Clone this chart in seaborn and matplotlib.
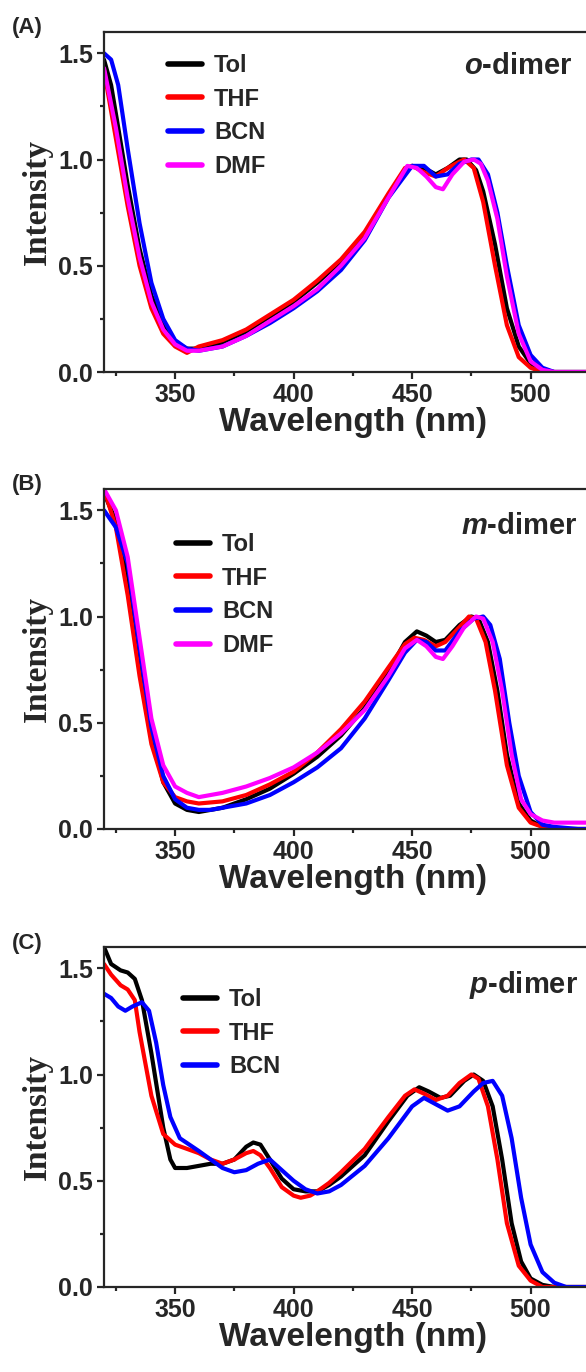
import numpy as np
import pandas as pd
import matplotlib
matplotlib.use("Agg")
import matplotlib.pyplot as plt
import seaborn as sns
from matplotlib.ticker import MultipleLocator

# ---------------- data ----------------
# Panel A: o-dimer
a_tol_x = [320, 323, 326, 330, 335, 340, 345, 350, 355, 360, 365, 370, 380, 390, 400, 410, 420, 430, 440, 445, 450, 455, 460, 465, 470, 473, 477, 480, 485, 490, 495, 500, 505, 510, 530]
a_tol_y = [1.47, 1.35, 1.15, 0.88, 0.58, 0.36, 0.22, 0.14, 0.11, 0.11, 0.12, 0.14, 0.19, 0.26, 0.33, 0.42, 0.52, 0.65, 0.83, 0.92, 0.97, 0.96, 0.93, 0.96, 1.0, 1.0, 0.95, 0.85, 0.6, 0.3, 0.12, 0.04, 0.01, 0.0, 0.0]
a_thf_x = [320, 325, 330, 335, 340, 345, 350, 355, 360, 370, 380, 390, 400, 410, 420, 430, 440, 447, 450, 455, 460, 465, 470, 472, 476, 480, 485, 490, 495, 500, 505, 530]
a_thf_y = [1.42, 1.1, 0.78, 0.5, 0.3, 0.18, 0.12, 0.09, 0.12, 0.15, 0.2, 0.27, 0.34, 0.43, 0.53, 0.66, 0.84, 0.96, 0.97, 0.94, 0.92, 0.96, 0.99, 1.0, 0.96, 0.8, 0.5, 0.22, 0.07, 0.02, 0.0, 0.0]
a_bcn_x = [320, 323, 326, 330, 335, 340, 345, 350, 355, 360, 370, 380, 390, 400, 410, 420, 430, 440, 450, 455, 460, 465, 470, 475, 478, 482, 486, 490, 495, 500, 505, 510, 530]
a_bcn_y = [1.5, 1.47, 1.35, 1.05, 0.7, 0.42, 0.25, 0.15, 0.11, 0.1, 0.12, 0.17, 0.23, 0.3, 0.38, 0.48, 0.62, 0.82, 0.97, 0.97, 0.92, 0.93, 0.98, 1.0, 1.0, 0.93, 0.75, 0.5, 0.22, 0.08, 0.02, 0.0, 0.0]
a_dmf_x = [320, 325, 330, 335, 340, 345, 350, 355, 360, 370, 380, 390, 400, 410, 420, 430, 440, 448, 452, 456, 460, 463, 467, 472, 476, 479, 482, 486, 490, 495, 500, 505, 510, 530]
a_dmf_y = [1.43, 1.15, 0.82, 0.54, 0.33, 0.2, 0.13, 0.1, 0.1, 0.12, 0.17, 0.24, 0.31, 0.39, 0.5, 0.63, 0.82, 0.97, 0.96, 0.92, 0.87, 0.86, 0.93, 0.99, 1.0, 0.98, 0.9, 0.72, 0.45, 0.18, 0.05, 0.01, 0.0, 0.0]

# Panel B: m-dimer
b_tol_x = [320, 325, 330, 335, 340, 345, 350, 355, 360, 365, 370, 380, 390, 400, 410, 420, 430, 440, 447, 452, 456, 460, 464, 470, 475, 478, 482, 486, 490, 495, 500, 505, 510, 530]
b_tol_y = [1.58, 1.45, 1.2, 0.8, 0.45, 0.22, 0.12, 0.09, 0.08, 0.09, 0.1, 0.14, 0.19, 0.26, 0.34, 0.44, 0.57, 0.74, 0.88, 0.93, 0.91, 0.88, 0.89, 0.96, 1.0, 0.99, 0.88, 0.65, 0.35, 0.12, 0.04, 0.01, 0.0, 0.0]
b_thf_x = [320, 325, 330, 335, 340, 345, 350, 355, 360, 370, 380, 390, 400, 410, 420, 430, 440, 447, 451, 455, 460, 464, 470, 474, 477, 481, 485, 490, 495, 500, 505, 510, 530]
b_thf_y = [1.6, 1.42, 1.1, 0.72, 0.4, 0.22, 0.15, 0.13, 0.12, 0.13, 0.16, 0.21, 0.27, 0.36, 0.47, 0.6, 0.76, 0.87, 0.9, 0.89, 0.86, 0.88, 0.95, 1.0, 0.99, 0.88, 0.65, 0.3, 0.1, 0.03, 0.01, 0.0, 0.0]
b_bcn_x = [320, 325, 330, 335, 340, 345, 350, 355, 360, 365, 370, 380, 390, 400, 410, 420, 430, 440, 447, 452, 456, 460, 464, 470, 476, 480, 483, 487, 491, 495, 500, 505, 510, 520, 530]
b_bcn_y = [1.5, 1.42, 1.25, 0.85, 0.48, 0.25, 0.14, 0.1, 0.09, 0.09, 0.1, 0.12, 0.16, 0.22, 0.29, 0.38, 0.52, 0.7, 0.83, 0.89, 0.88, 0.84, 0.84, 0.93, 0.99, 1.0, 0.96, 0.8, 0.5, 0.25, 0.08, 0.02, 0.01, 0.0, 0.0]
b_dmf_x = [320, 325, 330, 335, 340, 345, 350, 355, 360, 370, 380, 390, 400, 410, 420, 430, 440, 447, 452, 456, 460, 463, 467, 472, 477, 480, 484, 488, 492, 496, 500, 505, 510, 530]
b_dmf_y = [1.6, 1.5, 1.28, 0.9, 0.52, 0.3, 0.2, 0.17, 0.15, 0.17, 0.2, 0.24, 0.29, 0.36, 0.45, 0.56, 0.72, 0.85, 0.89, 0.86, 0.81, 0.8, 0.86, 0.95, 1.0, 0.99, 0.88, 0.65, 0.35, 0.14, 0.07, 0.04, 0.03, 0.03]

# Panel C: p-dimer
c_tol_x = [320, 323, 327, 330, 333, 336, 340, 345, 348, 350, 355, 360, 365, 370, 375, 380, 383, 386, 390, 395, 400, 405, 410, 415, 420, 430, 440, 448, 453, 457, 462, 466, 472, 476, 480, 484, 488, 492, 496, 500, 505, 510, 530]
c_tol_y = [1.6, 1.52, 1.49, 1.48, 1.45, 1.35, 1.1, 0.75, 0.6, 0.56, 0.56, 0.57, 0.58, 0.58, 0.6, 0.66, 0.68, 0.67, 0.6, 0.51, 0.46, 0.45, 0.45, 0.48, 0.52, 0.62, 0.78, 0.9, 0.94, 0.92, 0.89, 0.9, 0.97, 1.0, 0.97, 0.85, 0.6, 0.3, 0.12, 0.04, 0.01, 0.0, 0.0]
c_thf_x = [320, 323, 327, 330, 333, 335, 340, 345, 350, 355, 360, 365, 370, 375, 380, 383, 386, 390, 395, 400, 403, 407, 410, 415, 420, 430, 440, 447, 451, 455, 460, 465, 470, 475, 478, 482, 486, 490, 495, 500, 505, 530]
c_thf_y = [1.52, 1.47, 1.42, 1.4, 1.35, 1.2, 0.9, 0.72, 0.67, 0.65, 0.63, 0.6, 0.58, 0.6, 0.63, 0.64, 0.62, 0.56, 0.47, 0.43, 0.42, 0.43, 0.45, 0.49, 0.54, 0.65, 0.8, 0.9, 0.93, 0.91, 0.88, 0.9, 0.96, 1.0, 0.98, 0.85, 0.6, 0.3, 0.1, 0.03, 0.0, 0.0]
c_bcn_x = [320, 323, 326, 329, 332, 336, 339, 342, 345, 348, 352, 356, 360, 365, 370, 375, 380, 385, 390, 395, 400, 405, 410, 415, 420, 430, 440, 450, 455, 460, 465, 470, 476, 480, 484, 488, 492, 496, 500, 505, 510, 515, 530]
c_bcn_y = [1.38, 1.36, 1.32, 1.3, 1.32, 1.34, 1.3, 1.15, 0.95, 0.8, 0.7, 0.67, 0.64, 0.6, 0.56, 0.54, 0.55, 0.58, 0.6, 0.55, 0.5, 0.46, 0.44, 0.45, 0.48, 0.57, 0.7, 0.85, 0.89, 0.86, 0.83, 0.85, 0.92, 0.96, 0.97, 0.9, 0.7, 0.42, 0.2, 0.07, 0.02, 0.0, 0.0]

solvents_abc = ["Tol", "THF", "BCN", "DMF"]
panel_names = ["o-dimer", "m-dimer", "p-dimer"]
panel_tags = ["(A)", "(B)", "(C)"]
x_ticks = [350, 400, 450, 500]
y_ticks = [0.0, 0.5, 1.0, 1.5]

colors = {"Tol": "#000000", "THF": "#ff0000", "BCN": "#0000ff", "DMF": "#ff00ff"}

panels = [
    {"Tol": (a_tol_x, a_tol_y), "THF": (a_thf_x, a_thf_y), "BCN": (a_bcn_x, a_bcn_y), "DMF": (a_dmf_x, a_dmf_y)},
    {"Tol": (b_tol_x, b_tol_y), "THF": (b_thf_x, b_thf_y), "BCN": (b_bcn_x, b_bcn_y), "DMF": (b_dmf_x, b_dmf_y)},
    {"Tol": (c_tol_x, c_tol_y), "THF": (c_thf_x, c_thf_y), "BCN": (c_bcn_x, c_bcn_y)},
]

# ---------------- style ----------------
sns.set_style("ticks")
plt.rcParams["font.family"] = ["Liberation Sans", "DejaVu Sans"]
plt.rcParams["font.weight"] = "bold"
plt.rcParams["mathtext.fontset"] = "custom"
plt.rcParams["mathtext.bfit"] = "Liberation Sans:italic:bold"
plt.rcParams["axes.linewidth"] = 1.6
for k in ["xtick.major.width", "ytick.major.width", "xtick.minor.width", "ytick.minor.width"]:
    plt.rcParams[k] = 1.6
plt.rcParams["xtick.major.size"] = 5
plt.rcParams["ytick.major.size"] = 5
plt.rcParams["xtick.minor.size"] = 3
plt.rcParams["ytick.minor.size"] = 3

W, H = 586, 1372
fig = plt.figure(figsize=(W / 100, H / 100), dpi=100)

ax_left_px = 104
px_per_nm = 2.37
xlim = (320, 530)
ax_w_px = (xlim[1] - xlim[0]) * px_per_nm
tops_px = [32, 489, 947]
ax_h_px = 340

legend_x_px = [178, 186, 193]
legend_top_px = [54, 533, 988]
name_pos_px = [(572, 66), (578, 526), (578, 985)]

for i, data in enumerate(panels):
    top = tops_px[i]
    ax = fig.add_axes([ax_left_px / W, 1 - (top + ax_h_px) / H, ax_w_px / W, ax_h_px / H])
    rows = []
    for s, (xs, ys) in data.items():
        for xv, yv in zip(xs, ys):
            rows.append({"Wavelength": xv, "Intensity": yv, "Solvent": s})
    df = pd.DataFrame(rows)
    order = [s for s in solvents_abc if s in data]
    sns.lineplot(data=df, x="Wavelength", y="Intensity", hue="Solvent", hue_order=order,
                 palette=colors, linewidth=3, ax=ax, estimator=None, sort=True)
    ax.set_xlim(*xlim)
    ax.set_ylim(0, 1.6)
    ax.set_xticks(x_ticks)
    ax.set_yticks(y_ticks)
    ax.set_yticklabels([f"{v:.1f}" for v in y_ticks])
    ax.xaxis.set_minor_locator(MultipleLocator(25))
    ax.yaxis.set_minor_locator(MultipleLocator(0.25))
    ax.tick_params(axis="both", which="both", direction="out", labelsize=18, pad=3)
    for lab in ax.get_xticklabels() + ax.get_yticklabels():
        lab.set_fontweight("bold")
    ax.spines["right"].set_visible(False)
    ax.set_xlabel("Wavelength (nm)", fontsize=24, fontweight="bold", labelpad=0)
    ax.set_ylabel("Intensity", fontsize=24, fontweight="bold", family=["Liberation Serif"], labelpad=4)

    lx = (legend_x_px[i] - ax_left_px) / ax_w_px
    ly = 1 - (legend_top_px[i] - top) / ax_h_px
    leg = ax.legend(loc="upper left", bbox_to_anchor=(lx - 0.02, ly), frameon=False,
                    prop={"size": 17, "weight": "bold"}, handlelength=1.45, handletextpad=0.5,
                    labelspacing=0.45, borderaxespad=0, borderpad=0)
    for h in leg.get_lines():
        h.set_linewidth(4)

    nx, ny = name_pos_px[i]
    letter, rest = panel_names[i].split("-", 1)
    fig.text(nx / W, 1 - ny / H, f"$\\mathbfit{{{letter}}}$" + "-" + rest, ha="right", va="center",
             fontsize=21, fontweight="bold")
    fig.text(12 / W, 1 - (top - 4) / H, panel_tags[i], ha="left", va="center", fontsize=16, fontweight="bold")

fig.savefig("out.png", dpi=100)
